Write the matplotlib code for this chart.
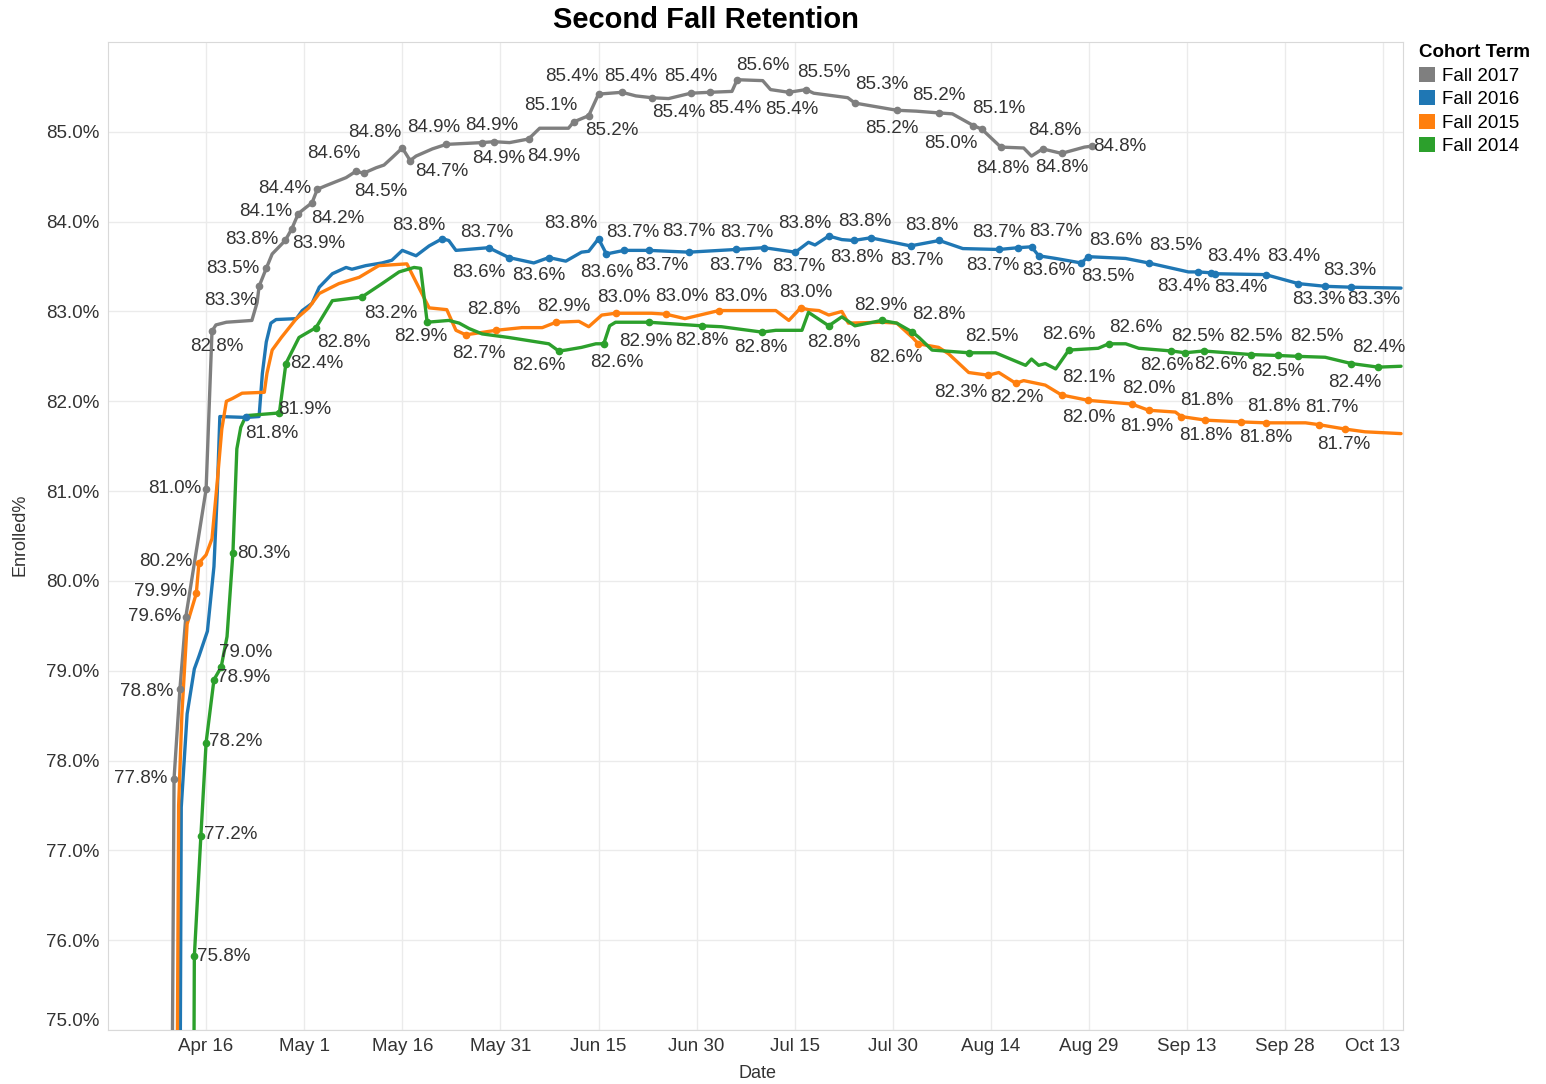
import matplotlib
matplotlib.use("Agg")
import matplotlib.pyplot as plt
import matplotlib.transforms as mtransforms
from matplotlib.patches import Patch
import numpy as np
import pandas as pd

plt.rcParams['font.family'] = ['Liberation Sans', 'DejaVu Sans']

# x values are days since Apr 1, y values are Enrolled %
cohorts = ['Fall 2017', 'Fall 2016', 'Fall 2015', 'Fall 2014']
colors = ['#7f7f7f', '#1f77b4', '#ff7f0e', '#2ca02c']

days_2017 = [9.6, 10.1, 11.0, 11.9, 15.0, 15.9, 16.5, 18.1, 22.0, 22.8, 23.1, 24.2, 25.1, 27.1, 28.1,
             29.1, 30.3, 31.2, 32.0, 33.3, 36.4, 37.9, 39.1, 41.0, 42.2, 43.4, 45.0, 46.2, 47.1, 49.6,
             51.7, 57.2, 59.0, 61.4, 64.3, 66.0, 70.4, 71.2, 73.5, 75.0, 78.6, 80.7, 83.1, 85.7, 89.1,
             92.0, 95.4, 96.2, 100.1, 101.3, 104.1, 106.7, 107.9, 113.1, 114.2, 120.6, 123.6, 127.1,
             129.1, 132.3, 133.6, 136.5, 140.0, 141.2, 142.9, 145.8, 149.3, 150.4]
enrolled_2017 = [72.0, 77.8, 78.8, 79.6, 81.02, 82.78, 82.85, 82.88, 82.9, 83.1, 83.28, 83.48, 83.64,
                 83.79, 83.92, 84.09, 84.16, 84.21, 84.36, 84.4, 84.49, 84.56, 84.54, 84.6, 84.63,
                 84.71, 84.82, 84.68, 84.73, 84.81, 84.86, 84.88, 84.89, 84.88, 84.92, 85.04, 85.04,
                 85.11, 85.18, 85.42, 85.44, 85.4, 85.38, 85.37, 85.43, 85.44, 85.45, 85.58, 85.57,
                 85.47, 85.44, 85.47, 85.43, 85.38, 85.32, 85.24, 85.23, 85.21, 85.2, 85.07, 85.03,
                 84.83, 84.82, 84.73, 84.81, 84.76, 84.83, 84.84]
label_days_2017 = [10.1, 11.0, 11.9, 15.0, 15.9, 23.1, 24.2, 27.1, 28.1, 29.1, 31.2, 32.0, 37.9, 39.1,
                   45.0, 46.2, 51.7, 57.2, 59.0, 64.3, 71.2, 73.5, 75.0, 78.6, 83.1, 89.1, 92.0, 96.2,
                   104.1, 106.7, 114.2, 120.6, 127.1, 132.3, 133.6, 136.5, 142.9, 145.8, 150.4]

days_2016 = [10.9, 11.2, 12.1, 13.2, 13.9, 15.2, 16.2, 16.7, 17.1, 21.1, 23.1, 23.6, 24.2, 24.9, 25.7,
             28.8, 29.7, 31.2, 32.3, 34.3, 36.4, 37.3, 39.4, 41.9, 43.4, 45.0, 47.1, 49.1, 51.1, 52.1,
             53.2, 58.2, 61.3, 65.1, 67.4, 70.0, 72.4, 73.5, 75.0, 76.2, 78.9, 82.7, 88.8, 96.0, 100.3,
             105.1, 107.1, 108.1, 110.2, 112.2, 114.0, 116.6, 122.7, 127.1, 130.7, 136.2, 139.2, 141.2,
             142.3, 144.9, 148.8, 149.9, 155.6, 159.1, 165.2, 166.7, 168.7, 169.3, 177.0, 182.0,
             186.1, 190.1, 197.7]
enrolled_2016 = [72.0, 77.48, 78.52, 79.02, 79.16, 79.44, 80.16, 80.97, 81.83, 81.82, 81.83, 82.31,
                 82.66, 82.87, 82.91, 82.92, 83.01, 83.09, 83.27, 83.42, 83.49, 83.47, 83.51, 83.54,
                 83.57, 83.68, 83.62, 83.73, 83.81, 83.79, 83.68, 83.71, 83.6, 83.54, 83.6, 83.56,
                 83.66, 83.67, 83.81, 83.64, 83.68, 83.68, 83.66, 83.69, 83.71, 83.66, 83.77, 83.74,
                 83.84, 83.8, 83.79, 83.82, 83.73, 83.79, 83.7, 83.69, 83.71, 83.72, 83.62, 83.59,
                 83.54, 83.61, 83.59, 83.54, 83.44, 83.44, 83.43, 83.42, 83.41, 83.31, 83.28, 83.27,
                 83.26]
label_days_2016 = [21.1, 51.1, 58.2, 61.3, 67.4, 75.0, 76.2, 78.9, 82.7, 88.8, 96.0, 100.3, 105.1,
                   110.2, 114.0, 116.6, 122.7, 127.1, 136.2, 139.2, 141.2, 142.3, 148.8, 149.9, 159.1,
                   166.7, 168.7, 169.3, 177.0, 182.0, 186.1, 190.1]

days_2015 = [10.4, 10.8, 11.3, 12.1, 13.5, 13.9, 15.0, 15.9, 16.7, 17.4, 18.1, 19.0, 20.5, 23.9, 24.3,
             25.1, 26.5, 28.8, 30.7, 32.3, 35.3, 38.4, 41.4, 45.7, 47.5, 49.1, 51.8, 53.2, 54.7, 57.5,
             59.3, 63.3, 66.4, 68.5, 72.0, 73.5, 75.5, 77.6, 83.1, 85.3, 88.2, 93.4, 102.1, 104.1,
             105.9, 107.1, 108.7, 110.2, 112.2, 113.2, 118.3, 120.6, 123.0, 123.9, 127.0, 128.5,
             131.6, 134.6, 136.2, 138.8, 140.0, 143.3, 145.8, 149.9, 156.5, 159.1, 163.2, 164.1,
             167.8, 173.3, 177.0, 183.1, 185.1, 189.2, 192.2, 197.7]
enrolled_2015 = [72.0, 77.5, 78.52, 79.52, 79.86, 80.2, 80.29, 80.47, 81.1, 81.69, 82.0, 82.03, 82.09,
                 82.1, 82.31, 82.57, 82.71, 82.92, 83.04, 83.2, 83.31, 83.38, 83.51, 83.53, 83.27,
                 83.04, 83.02, 82.79, 82.74, 82.77, 82.79, 82.82, 82.82, 82.88, 82.89, 82.83, 82.96,
                 82.98, 82.98, 82.97, 82.92, 83.01, 83.01, 82.9, 83.04, 83.02, 83.01, 82.96, 83.0,
                 82.87, 82.88, 82.87, 82.71, 82.64, 82.6, 82.53, 82.32, 82.29, 82.32, 82.2, 82.23,
                 82.18, 82.07, 82.01, 81.97, 81.9, 81.88, 81.83, 81.79, 81.77, 81.76, 81.76, 81.74,
                 81.69, 81.66, 81.64]
label_days_2015 = [13.5, 13.9, 54.7, 59.3, 68.5, 77.6, 85.3, 93.4, 105.9, 123.9, 134.6, 138.8, 145.8,
                   149.9, 156.5, 159.1, 164.1, 167.8, 173.3, 177.0, 185.1, 189.2]

days_2014 = [13.0, 13.2, 14.2, 15.0, 16.2, 17.3, 18.2, 19.1, 19.7, 20.3, 21.1, 26.2, 27.2, 29.2, 31.8,
             34.3, 38.8, 41.9, 44.5, 46.8, 47.8, 48.8, 52.1, 53.7, 55.2, 57.2, 61.3, 63.9, 67.4, 68.9,
             70.0, 72.4, 74.6, 75.8, 76.7, 77.6, 82.7, 90.8, 93.8, 100.0, 102.1, 106.1, 107.1, 110.2,
             112.2, 114.2, 118.3, 120.6, 123.0, 124.0, 126.0, 131.6, 135.7, 140.3, 141.2, 142.3,
             143.3, 144.9, 146.9, 151.4, 153.0, 155.6, 157.6, 162.6, 164.7, 167.5, 174.8, 178.9,
             182.0, 186.1, 190.1, 194.2, 197.7]
enrolled_2014 = [72.0, 75.82, 77.16, 78.2, 78.9, 79.04, 79.38, 80.31, 81.47, 81.71, 81.84, 81.87,
                 82.42, 82.71, 82.82, 83.12, 83.16, 83.31, 83.44, 83.49, 83.48, 82.88, 82.9, 82.87,
                 82.81, 82.75, 82.71, 82.68, 82.64, 82.56, 82.57, 82.6, 82.64, 82.64, 82.84, 82.88,
                 82.88, 82.84, 82.83, 82.77, 82.79, 82.79, 82.99, 82.84, 82.94, 82.84, 82.9, 82.87,
                 82.77, 82.71, 82.57, 82.54, 82.54, 82.4, 82.47, 82.4, 82.42, 82.36, 82.57, 82.59,
                 82.64, 82.64, 82.59, 82.56, 82.54, 82.56, 82.52, 82.51, 82.5, 82.49, 82.42, 82.38,
                 82.39]
label_days_2014 = [13.2, 14.2, 15.0, 16.2, 17.3, 19.1, 26.2, 27.2, 31.8, 38.8, 48.8, 68.9, 75.8, 82.7,
                   90.8, 100.0, 110.2, 118.3, 123.0, 131.6, 146.9, 153.0, 162.6, 164.7, 167.5, 174.8,
                   178.9, 182.0, 190.1, 194.2]

# label placement, pixels from the mark (right, down)
offsets_2017 = [(-33, 0), (-33, 3), (-31, 0), (-31, -1), (5, 15), (-28, 14), (-34, 0), (-33, -1),
                (27, 15), (-33, -2), (26, 16), (-33, -1), (-22, -18), (17, 18), (-28, -15), (32, 11),
                (-12, -17), (17, 16), (-2, -16), (25, 17), (-23, -16), (23, 15), (-27, -18), (9, -16),
                (27, 15), (0, -17), (25, 16), (26, -14), (3, 17), (18, -17), (27, -19), (-5, 18),
                (0, -17), (25, -17), (-31, 14), (2, 21), (12, -18), (0, 14), (28, 0)]
offsets_2016 = [(26, 16), (-23, -13), (-2, -15), (-30, 15), (-10, 18), (-28, -15), (0, 19), (9, -18),
                (13, 15), (0, -21), (0, 16), (-17, -15), (3, 14), (-24, -13), (3, 17), (-6, -16),
                (6, 15), (-8, -15), (-6, 16), (-20, -15), (24, -15), (10, 15), (27, 14), (27, -16),
                (27, -17), (-15, 15), (22, -16), (25, 14), (28, -18), (20, 16), (25, -16), (22, 12)]
offsets_2015 = [(-36, -2), (-33, -1), (13, 19), (-2, -21), (8, -16), (8, -16), (16, -18), (22, -14),
                (5, -15), (-23, 14), (-28, 17), (1, 14), (27, -17), (0, 17), (17, -15), (-2, 16),
                (25, -16), (0, 15), (32, -15), (0, 15), (13, -17), (-2, 15)]
offsets_2014 = [(29, 0), (30, -1), (30, -1), (30, -2), (24, -15), (31, 0), (25, -3), (31, 0), (28, 15),
                (29, 16), (-6, 14), (-20, 15), (13, 19), (-3, 19), (0, 15), (-1, 15), (5, 17), (-1, -15),
                (26, -18), (23, -16), (0, -16), (27, -16), (-5, 15), (13, -16), (17, 14), (5, -18),
                (0, 16), (18, -20), (27, -16), (-23, 15)]

series = [
    (days_2017, enrolled_2017, label_days_2017, offsets_2017),
    (days_2016, enrolled_2016, label_days_2016, offsets_2016),
    (days_2015, enrolled_2015, label_days_2015, offsets_2015),
    (days_2014, enrolled_2014, label_days_2014, offsets_2014),
]

W, H = 1546, 1084
fig = plt.figure(figsize=(W / 100, H / 100), dpi=100)
ax = fig.add_axes([108 / W, 1 - 1030 / H, (1403 - 108) / W, (1030 - 42) / H])

for (d, v, ld, offs), col, name in zip(series, colors, cohorts):
    d = np.array(d)
    v = np.array(v)
    ax.plot(d, v, color=col, lw=2.4, solid_joinstyle='round', solid_capstyle='round', zorder=3)
    for day, (dx, dy) in zip(ld, offs):
        i = int(np.argmin(np.abs(d - day)))
        ax.plot(d[i], v[i], 'o', color=col, ms=4.5, zorder=4)
        ax.annotate(f'{v[i]:.1f}%', (d[i], v[i]), xytext=(dx, -dy), textcoords='offset pixels',
                    ha='center', va='center', fontsize=13.5, color='#333333', zorder=5)

ax.set_xlim(0, 198)
ax.set_ylim(75, 86)
xt = np.arange(15, 196, 15)
ax.set_xticks(xt)
ax.set_xticklabels([(pd.Timestamp('2018-04-01') + pd.Timedelta(days=int(t))).strftime('%b %-d') for t in xt])
yt = np.arange(75, 86)
ax.set_yticks(yt)
ax.set_yticklabels([f'{t:.1f}%' for t in yt])
ax.tick_params(length=0, labelsize=13.5, labelcolor='#333333', pad=6)
ax.grid(True, color='#ebebeb', lw=1)
ax.set_axisbelow(True)
for s in ax.spines.values():
    s.set_color('#d9d9d9')

# edge tick labels pulled inside, as in the original
last_x = ax.get_xticklabels()[-1]
last_x.set_transform(last_x.get_transform() + mtransforms.ScaledTranslation(-0.11, 0, fig.dpi_scale_trans))
first_y = ax.get_yticklabels()[0]
first_y.set_transform(first_y.get_transform() + mtransforms.ScaledTranslation(0, 0.11, fig.dpi_scale_trans))

fig.text(706 / W, 1 - 20 / H, 'Second Fall Retention', ha='center', va='center',
         fontsize=21, fontweight='bold')
fig.text(20 / W, 1 - 535 / H, 'Enrolled%', rotation=90, ha='center', va='center',
         fontsize=13, color='#333333')
fig.text(757 / W, 1 - 1074 / H, 'Date', ha='center', va='center', fontsize=13, color='#333333')

handles = [Patch(facecolor=c, edgecolor='none') for c in colors]
leg = fig.legend(handles, cohorts, loc='upper left', bbox_to_anchor=(1419 / W, 1 - 44 / H),
                 frameon=False, title='Cohort Term', fontsize=13.5,
                 title_fontproperties={'weight': 'bold', 'size': 13.5},
                 handlelength=0.85, handleheight=0.85, handletextpad=0.35, labelspacing=0.3,
                 borderpad=0, borderaxespad=0)
leg._legend_box.align = 'left'

fig.savefig('out.png', dpi=100)
